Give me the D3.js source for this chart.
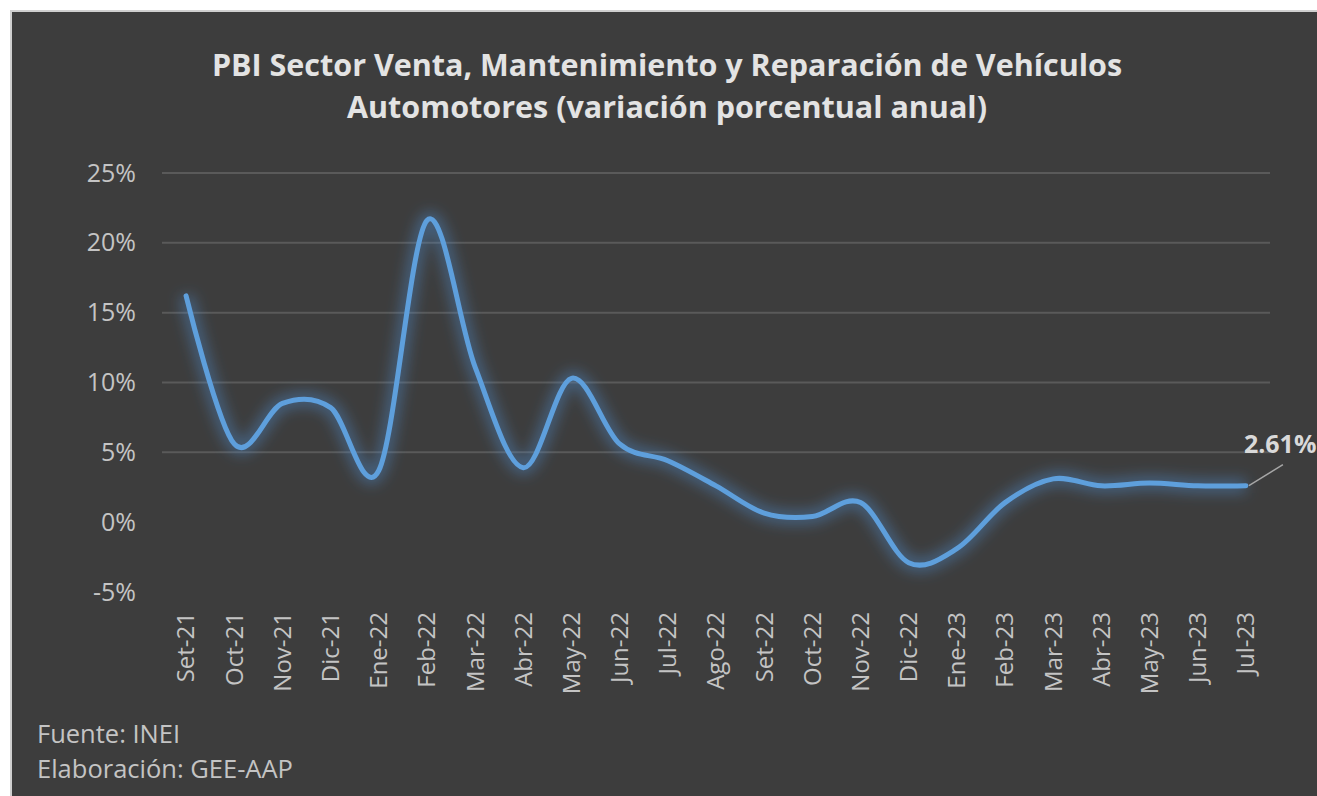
<!DOCTYPE html>
<html>
<head>
<meta charset="utf-8">
<script src="https://cdn.jsdelivr.net/npm/d3@7"></script>
<style>
  html, body { margin: 0; padding: 0; background: #ffffff; }
  svg { display: block; }
</style>
</head>
<body>
<div id="chart"></div>
<script>
const months = ['Set-21','Oct-21','Nov-21','Dic-21','Ene-22','Feb-22','Mar-22','Abr-22','May-22','Jun-22','Jul-22','Ago-22',
  'Set-22','Oct-22','Nov-22','Dic-22','Ene-23','Feb-23','Mar-23','Abr-23','May-23','Jun-23','Jul-23']
const variation = [16.2, 5.6, 8.5, 8.2, 3.7, 21.6, 11.1, 3.9, 10.3, 5.6, 4.4, 2.6,
  0.65, 0.4, 1.4, -2.9, -1.9, 1.4, 3.1, 2.6, 2.8, 2.6, 2.61]
const yTicks = [-5, 0, 5, 10, 15, 20, 25]
const gridTicks = [5, 10, 15, 20, 25]
const titleLines = ['PBI Sector Venta, Mantenimiento y Reparación de Vehículos', 'Automotores (variación porcentual anual)']
const notes = ['Fuente: INEI', 'Elaboración: GEE-AAP']

const width = 1317, height = 796
const font = '"Open Sans", sans-serif'

const svg = d3.select('#chart').append('svg')
  .attr('width', width)
  .attr('height', height)

// dark panel, light border only on top and left
svg.append('rect')
  .attr('x', 10).attr('y', 11)
  .attr('width', width).attr('height', height)
  .attr('fill', '#3d3d3d')
svg.append('path')
  .attr('d', 'M11,' + height + 'V11H' + width)
  .attr('fill', 'none')
  .attr('stroke', '#cfcfcf')
  .attr('stroke-width', 2)

const defs = svg.append('defs')
const glow = defs.append('filter')
  .attr('id', 'glow')
  .attr('x', '-10%').attr('y', '-20%')
  .attr('width', '120%').attr('height', '140%')
glow.append('feGaussianBlur').attr('stdDeviation', 7)

let x = d3.scaleBand()
  .domain(months)
  .range([162, 1270])

let y = d3.scaleLinear()
  .domain([-5, 25])
  .range([592, 173])

// gridlines
svg.append('g')
  .selectAll('line')
  .data(gridTicks)
  .enter()
  .append('line')
  .attr('x1', 162).attr('x2', 1270)
  .attr('y1', d => y(d)).attr('y2', d => y(d))
  .attr('stroke', '#5a5a5a')
  .attr('stroke-width', 2)

// y axis labels
const yAxis = svg.append('g')
  .attr('transform', 'translate(136,0)')
  .call(d3.axisLeft(y).tickValues(yTicks).tickSize(0).tickPadding(0).tickFormat(d => d + '%'))
yAxis.select('.domain').remove()
yAxis.selectAll('text')
  .attr('fill', '#c4c4c4')
  .style('font-family', font)
  .style('font-size', '25px')

// x axis labels (rotated)
const xAxis = svg.append('g')
  .attr('transform', 'translate(0,612)')
  .call(d3.axisBottom(x).tickSize(0).tickPadding(0))
xAxis.select('.domain').remove()
xAxis.selectAll('text')
  .attr('fill', '#c4c4c4')
  .attr('transform', 'rotate(-90)')
  .attr('text-anchor', 'end')
  .attr('x', 0)
  .attr('y', 0)
  .attr('dy', '0.35em')
  .style('font-family', font)
  .style('font-size', '24px')

const line = d3.line()
  .x((d, i) => x(months[i]) + x.bandwidth() / 2)
  .y(d => y(d))
  .curve(d3.curveCardinal.tension(0))

// glow under the line
svg.append('path')
  .datum(variation)
  .attr('d', line)
  .attr('fill', 'none')
  .attr('stroke', '#4f8fd0')
  .attr('stroke-width', 14)
  .attr('stroke-opacity', 0.45)
  .attr('filter', 'url(#glow)')

svg.append('path')
  .datum(variation)
  .attr('d', line)
  .attr('fill', 'none')
  .attr('stroke', '#5e9fdc')
  .attr('stroke-width', 5)
  .attr('stroke-linecap', 'round')

// last value label with leader line
const lastX = x(months[months.length - 1]) + x.bandwidth() / 2
const lastY = y(variation[variation.length - 1])
svg.append('line')
  .attr('x1', lastX + 3).attr('y1', lastY)
  .attr('x2', lastX + 37).attr('y2', lastY - 21)
  .attr('stroke', '#a6a6a6')
  .attr('stroke-width', 1.5)
svg.append('text')
  .attr('x', lastX - 2)
  .attr('y', lastY - 33)
  .attr('fill', '#d9d9d9')
  .style('font-family', font)
  .style('font-size', '25px')
  .style('font-weight', 'bold')
  .text(variation[variation.length - 1].toFixed(2) + '%')

// title
svg.append('g')
  .selectAll('text')
  .data(titleLines)
  .enter()
  .append('text')
  .attr('x', 667)
  .attr('y', (d, i) => 76 + i * 42)
  .attr('text-anchor', 'middle')
  .attr('fill', '#e3e3e3')
  .style('font-family', font)
  .style('font-size', '30.5px')
  .style('font-weight', 'bold')
  .text(d => d)

// notes
svg.append('g')
  .selectAll('text')
  .data(notes)
  .enter()
  .append('text')
  .attr('x', 37)
  .attr('y', (d, i) => 743 + i * 35)
  .attr('fill', '#c4c4c4')
  .style('font-family', font)
  .style('font-size', '25.5px')
  .text(d => d)
</script>
</body>
</html>
